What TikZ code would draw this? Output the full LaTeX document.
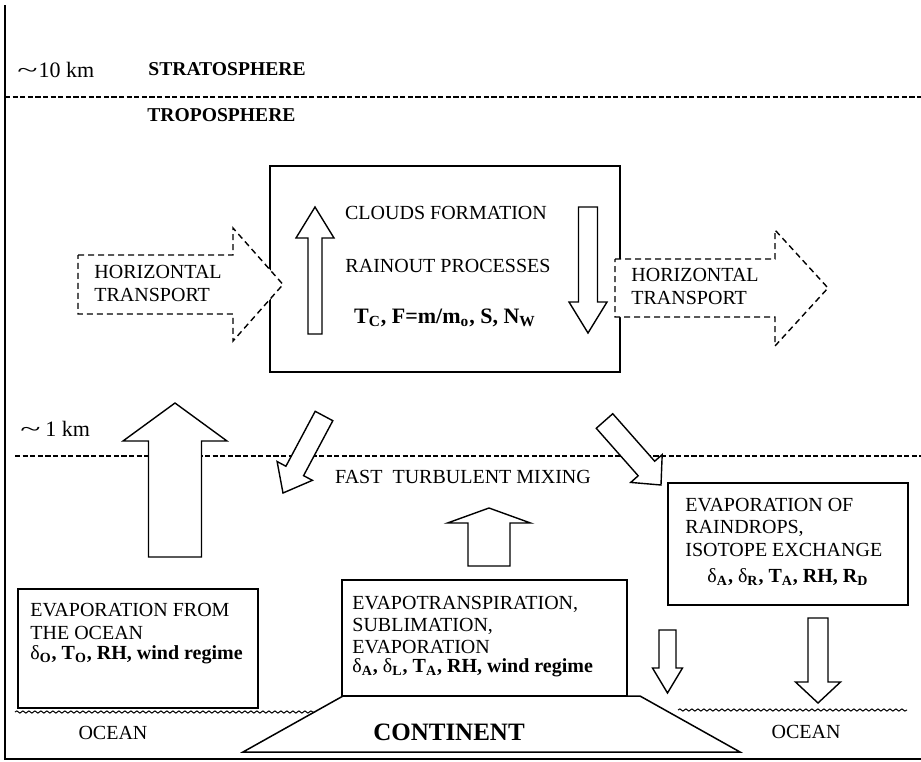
\documentclass[tikz,border=0pt]{standalone}
\usepackage{fontspec}
\setmainfont{Liberation Serif}
\usepackage{graphicx}
\usetikzlibrary{calc,decorations.pathmorphing}

\tikzset{
  frameline/.style={line width=1pt},
  layerline/.style={line width=0.7pt, dash pattern=on 2.6pt off 1.2pt},
  boxline/.style={line width=0.75pt},
  barrow/.style={line width=0.7pt, fill=white, line join=miter},
  dasharrow/.style={barrow, dash pattern=on 3pt off 2pt},
  wave/.style={line width=0.5pt, decorate, decoration={snake, amplitude=0.55pt, segment length=3pt}},
  txt/.style={inner sep=0pt, font=\fontsize{10}{11.3}\selectfont},
  bld/.style={inner sep=0pt, font=\fontsize{10}{11.3}\selectfont\bfseries},
  big/.style={inner sep=0pt, font=\fontsize{11}{13}\selectfont\bfseries},
  km/.style={inner sep=0pt, font=\fontsize{11}{13}\selectfont},
  layername/.style={inner sep=0pt, font=\fontsize{9.8}{11}\selectfont\bfseries},
}

% #1 options, #2 tail centre, #3 tip, #4 half shaft, #5 half head, #6 head length (all px)
\newcommand\blockarrow[6][]{%
  \coordinate (ba-t) at (#2);
  \coordinate (ba-p) at (#3);
  \coordinate (ba-b) at ($(ba-p)!#6*0.5pt!(ba-t)$);
  \draw[barrow,#1] ($(ba-t)!#4*0.5pt!90:(ba-p)$)
    -- ($(ba-b)!#4*0.5pt!90:(ba-p)$)
    -- ($(ba-b)!#5*0.5pt!90:(ba-p)$)
    -- (ba-p)
    -- ($(ba-b)!#5*0.5pt!-90:(ba-p)$)
    -- ($(ba-b)!#4*0.5pt!-90:(ba-p)$)
    -- ($(ba-t)!#4*0.5pt!-90:(ba-p)$) -- cycle;%
}
\newcommand\tld{\scalebox{1.7}[1]{\textasciitilde}\kern0.5pt}
\newcommand\dlt{{\mdseries δ}}

\begin{document}
\begin{tikzpicture}[x=0.5pt,y=-0.5pt]
\useasboundingbox (0,0) rectangle (921,761);

% frame (left and bottom edges)
\draw[frameline] (5,5) -- (5,759) -- (921,759);

% layer boundaries
\draw[layerline] (5,97) -- (921,97);
\draw[layerline] (15,456) -- (921,456);

\node[km, anchor=base west] (tenkm) at (17,77) {\tld10 km};
\node[layername, anchor=base west] (strato) at (148,75) {STRATOSPHERE};
\node[layername, anchor=base west] (tropo) at (147,121) {TROPOSPHERE};
\node[km, anchor=base west] (onekm) at (20,436) {\tld\,1 km};

% cloud box
\draw[boxline] (270,166) rectangle (620,372);
\node[txt] (clouds) at (446,213) {CLOUDS FORMATION};
\node[txt] (rainout) at (448,266) {RAINOUT PROCESSES};
\node[big] (params) at (445,318) {T\textsubscript{C}, F=m/m\textsubscript{o}, S, N\textsubscript{W}};

\blockarrow{315,334}{315,207}{7}{19}{31}
\blockarrow{588,207}{588,333}{9.5}{19}{31}

% horizontal transport
\blockarrow[dasharrow]{78,284.5}{283,284.5}{29.5}{56.5}{50}
\blockarrow[dasharrow]{615,288}{828,288}{29}{58}{53}
\node[txt, align=left, anchor=west] (htl) at (94,283.5) {HORIZONTAL\\TRANSPORT};
\node[txt, align=left, anchor=west] (htr) at (631,286.5) {HORIZONTAL\\TRANSPORT};

% boundary layer arrows
\blockarrow{175,557}{175,403}{26.5}{52}{38}
\blockarrow{324,416}{283,493}{10}{20}{25}
\blockarrow{604.5,421}{661,485}{11}{21}{22}
\node[txt] (mixing) at (463,477) {FAST\ \ TURBULENT MIXING};
\blockarrow{489,566}{489,508}{21}{41.5}{15}

% raindrops box
\draw[boxline] (668,483) rectangle (908,605);
\node[txt, align=left, anchor=west, font=\fontsize{10}{11.25}\selectfont] (rain) at (685,527) {EVAPORATION OF\\RAINDROPS,\\ISOTOPE EXCHANGE};
\node[bld] (rainpar) at (788,577) {\dlt\textsubscript{A}, \dlt\textsubscript{R}, T\textsubscript{A}, RH, R\textsubscript{D}};

% ocean evaporation box
\draw[boxline] (18,589) rectangle (258,708);
\node[txt, align=left, anchor=west, font=\fontsize{10}{11.25}\selectfont] (oceanevap) at (30,621.5) {EVAPORATION FROM\\THE OCEAN};
\node[bld, anchor=west] (oceanpar) at (30,655) {\dlt\textsubscript{O}, T\textsubscript{O}, RH, wind regime};

% continent box
\draw[boxline] (342,580) rectangle (627,696);
\node[txt, align=left, anchor=west, font=\fontsize{10}{10.85}\selectfont] (landevap) at (352,625) {EVAPOTRANSPIRATION,\\SUBLIMATION,\\EVAPORATION};
\node[bld, anchor=west] (landpar) at (352,668) {\dlt\textsubscript{A}, \dlt\textsubscript{L}, T\textsubscript{A}, RH, wind regime};

% rain down arrows
\blockarrow{667.5,630}{667.5,693}{8.5}{15}{25}
\blockarrow{818,618}{818,703}{10}{22.5}{21}

% surface
\draw[wave] (15,712) -- (315,712);
\draw[wave] (678,710) -- (907,710);
\draw[boxline] (343,696) -- (640,696) -- (740,752) -- (243,752) -- cycle;
\node[bld, font=\fontsize{12.5}{14}\selectfont\bfseries] (continent) at (449,732) {CONTINENT};
\node[txt] (oceanl) at (113,733) {OCEAN};
\node[txt] (oceanr) at (806,732) {OCEAN};
\end{tikzpicture}
\end{document}
